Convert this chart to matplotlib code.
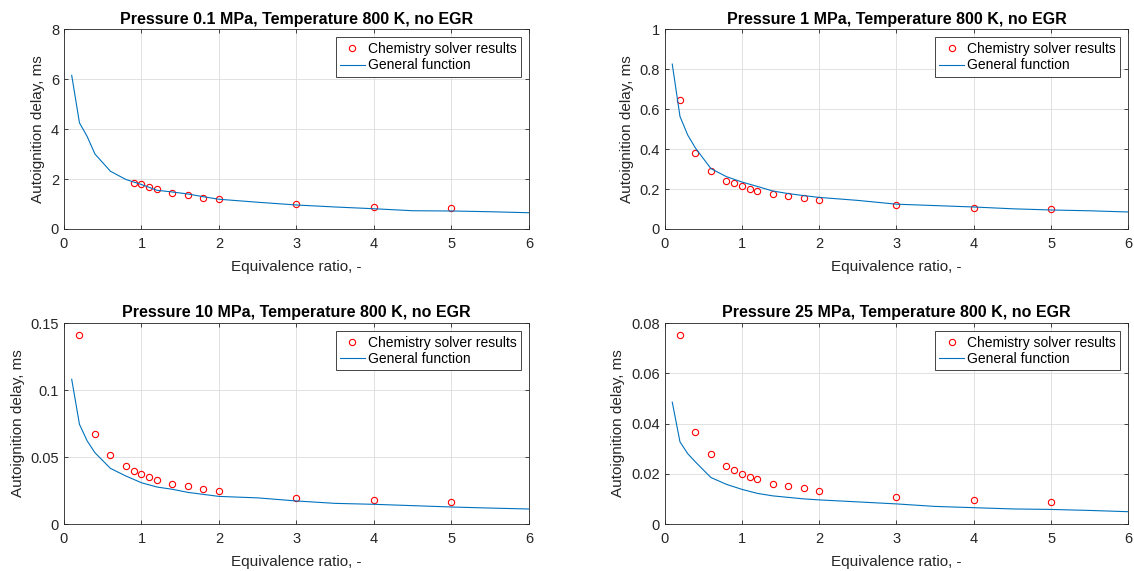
#!/usr/bin/env python3
"""Autoignition delay vs equivalence ratio at 800 K, four pressures."""

import matplotlib
matplotlib.use("Agg")
import matplotlib.pyplot as plt

plt.rcParams['font.family'] = ['Liberation Sans', 'DejaVu Sans']

# Chemistry solver results (equivalence ratio, delay in ms)
phi_solver = [0.2, 0.4, 0.6, 0.8, 0.9, 1.0, 1.1, 1.2, 1.4, 1.6, 1.8, 2.0, 3.0, 4.0, 5.0]
phi_solver_01 = [0.9, 1.0, 1.1, 1.2, 1.4, 1.6, 1.8, 2.0, 3.0, 4.0, 5.0]

solver_01 = [1.84, 1.79, 1.67, 1.59, 1.44, 1.35, 1.25, 1.19, 1.00, 0.87, 0.83]
solver_1 = [0.647, 0.378, 0.288, 0.242, 0.228, 0.213, 0.200, 0.190, 0.177, 0.163,
            0.153, 0.143, 0.118, 0.105, 0.098]
solver_10 = [0.141, 0.0674, 0.0515, 0.0430, 0.0396, 0.0373, 0.0353, 0.0328, 0.0301,
             0.0284, 0.0264, 0.0249, 0.0197, 0.0179, 0.0164]
solver_25 = [0.0753, 0.0367, 0.0278, 0.0230, 0.0215, 0.0201, 0.0189, 0.0178, 0.0161,
             0.0151, 0.0142, 0.0132, 0.0108, 0.0096, 0.0086]

# General function curve
phi_fit = [0.1, 0.2, 0.3, 0.4, 0.6, 0.8, 1.0, 1.2, 1.4, 1.6, 1.8, 2.0, 2.5, 3.0,
           3.5, 4.0, 4.5, 5.0, 5.5, 6.0]
fit_01 = [6.15, 4.25, 3.7, 3.0, 2.31, 1.98, 1.78, 1.55, 1.48, 1.40, 1.29, 1.19,
          1.07, 0.96, 0.88, 0.81, 0.73, 0.72, 0.69, 0.65]
fit_1 = [0.825, 0.563, 0.47, 0.405, 0.302, 0.262, 0.235, 0.213, 0.190, 0.177,
         0.167, 0.158, 0.143, 0.124, 0.117, 0.110, 0.101, 0.095, 0.091, 0.085]
fit_10 = [0.108, 0.0744, 0.062, 0.0532, 0.0415, 0.0358, 0.0308, 0.0276, 0.0259,
          0.0236, 0.0221, 0.0206, 0.0195, 0.0172, 0.0154, 0.0147, 0.0137, 0.0127,
          0.0119, 0.0112]
fit_25 = [0.0485, 0.0327, 0.028, 0.0247, 0.0185, 0.0158, 0.0138, 0.0122, 0.0112,
          0.0106, 0.0100, 0.0096, 0.0088, 0.0080, 0.0070, 0.0065, 0.0060, 0.0058,
          0.0054, 0.0049]

titles = ['Pressure 0.1 MPa, Temperature 800 K, no EGR',
          'Pressure 1 MPa, Temperature 800 K, no EGR',
          'Pressure 10 MPa, Temperature 800 K, no EGR',
          'Pressure 25 MPa, Temperature 800 K, no EGR']
y_ticks = [[0, 2, 4, 6, 8],
           [0, 0.2, 0.4, 0.6, 0.8, 1],
           [0, 0.05, 0.1, 0.15],
           [0, 0.02, 0.04, 0.06, 0.08]]
x_ticks = [0, 1, 2, 3, 4, 5, 6]

panels = [
    (phi_solver_01, solver_01, fit_01),
    (phi_solver, solver_1, fit_1),
    (phi_solver, solver_10, fit_10),
    (phi_solver, solver_25, fit_25),
]

positions = [
    [0.0564, 0.599, 0.410, 0.350],
    [0.586, 0.599, 0.409, 0.350],
    [0.0564, 0.0823, 0.410, 0.352],
    [0.586, 0.0823, 0.409, 0.352],
]

axis_color = '#262626'

fig = plt.figure(figsize=(11.34, 5.71), dpi=100)

for i, (xs, ys, yf) in enumerate(panels):
    ax = fig.add_axes(positions[i])
    ax.plot(xs, ys, 'o', mfc='none', mec='#ff0000', ms=4.5, mew=0.8,
            label='Chemistry solver results')
    ax.plot(phi_fit, yf, '-', color='#0072BD', lw=0.8, label='General function')

    ax.set_xlim(0, 6)
    ax.set_ylim(y_ticks[i][0], y_ticks[i][-1])
    ax.set_xticks(x_ticks)
    ax.set_yticks(y_ticks[i])
    ax.set_yticklabels([f'{t:g}' for t in y_ticks[i]])
    ax.grid(True, color='#dcdcdc', lw=0.6)
    ax.set_axisbelow(True)
    ax.tick_params(direction='in', length=3, width=0.6, colors=axis_color,
                   labelsize=10.5, top=True, right=True, labeltop=False,
                   labelright=False)
    ax.tick_params(axis='x', pad=6)
    for sp in ax.spines.values():
        sp.set_color(axis_color)
        sp.set_linewidth(0.6)

    ax.set_title(titles[i], fontsize=11.5, fontweight='bold', color='black', pad=4)
    ax.set_xlabel('Equivalence ratio, -', fontsize=11, color=axis_color, labelpad=6)
    ax.set_ylabel('Autoignition delay, ms', fontsize=11, color=axis_color, labelpad=4)

    leg = ax.legend(loc='upper right', fontsize=10, fancybox=False, framealpha=1,
                    edgecolor=axis_color, borderpad=0.3, labelspacing=0.2,
                    handlelength=1.8, handletextpad=0.2, borderaxespad=0.6)
    leg.get_frame().set_linewidth(0.6)

fig.savefig('out.png', dpi=100)
